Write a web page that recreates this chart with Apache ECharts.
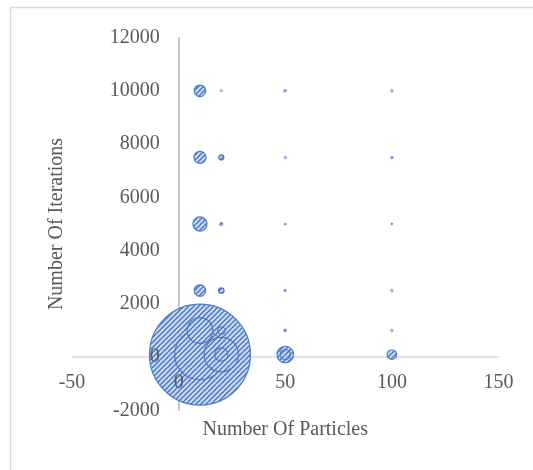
<!DOCTYPE html>
<html>
<head>
<meta charset="utf-8">
<script src="https://cdn.jsdelivr.net/npm/echarts@6/dist/echarts.min.js"></script>
<style>
html,body{margin:0;padding:0;background:#fff;}
#chart{width:533px;height:470px;}
</style>
</head>
<body>
<div id="chart"></div>
<script>
// Data
const particles  = [10, 10, 10, 10, 10, 10, 10, 20, 20, 20, 20, 20, 20, 20, 50, 50, 50, 50, 50, 50, 50, 100, 100, 100, 100, 100, 100];
const iterations = [10000, 7500, 5000, 2500, 1000, 100, 100, 10000, 7500, 5000, 2500, 1000, 100, 100, 10000, 7500, 5000, 2500, 1000, 100, 100, 10000, 7500, 5000, 2500, 1000, 100];
const bubbleSize = [1.3, 1.45, 1.95, 1.3, 6.5, 100, 25, 0.04, 0.25, 0.12, 0.3, 0.55, 11.6, 1.7, 0.07, 0.06, 0.04, 0.06, 0.09, 2.7, 1.0, 0.06, 0.06, 0.04, 0.06, 0.06, 0.9];
const xTicks = [-50, 0, 50, 100, 150];
const yTicks = [-2000, 0, 2000, 4000, 6000, 8000, 10000, 12000];

// hatched pattern
const tile = document.createElement('canvas');
tile.width = 5; tile.height = 5;
const c = tile.getContext('2d');
c.fillStyle = '#cbd9ef';
c.fillRect(0, 0, 5, 5);
c.strokeStyle = '#4472c4';
c.lineWidth = 1.3;
c.beginPath();
c.moveTo(-1, 6); c.lineTo(6, -1);
c.moveTo(-1, 1); c.lineTo(1, -1);
c.moveTo(4, 6); c.lineTo(6, 4);
c.stroke();

const maxSize = Math.max(...bubbleSize);
const pts = particles.map((x, i) => [x, iterations[i], bubbleSize[i]]);
pts.sort((a, b) => b[2] - a[2]);

const font = "'Liberation Serif', 'Times New Roman', serif";
const gridLeft = 72, gridRight = 34.5, gridTop = 37.5, gridBottom = 59.5;
const W = 533, H = 470;
const plotW = W - gridLeft - gridRight, plotH = H - gridTop - gridBottom;
// offsets that put each axis where the other axis is zero (computed from the axis ranges)
const xOffset = -plotH * (0 - yTicks[0]) / (yTicks[yTicks.length - 1] - yTicks[0]);
const yOffset = -plotW * (0 - xTicks[0]) / (xTicks[xTicks.length - 1] - xTicks[0]);

function xAx(lines) {
  return {
    type: 'value', position: 'bottom', offset: xOffset, z: lines ? 0 : 5,
    min: xTicks[0], max: xTicks[xTicks.length - 1], interval: 50,
    name: lines ? '' : 'Number Of Particles', nameLocation: 'middle', nameGap: 63, nameMoveOverlap: false,
    nameTextStyle: {fontFamily: font, fontSize: 20, color: '#595959'},
    axisLine: {show: lines, onZero: false, lineStyle: {color: '#d9d9d9', width: 1.5}},
    axisTick: {show: false},
    splitLine: {show: false},
    axisLabel: {show: !lines, fontFamily: font, fontSize: 20, color: '#595959', margin: 16, formatter: v => String(v)}
  };
}
function yAx(lines) {
  return {
    type: 'value', position: 'left', offset: yOffset, z: lines ? 0 : 5,
    min: yTicks[0], max: yTicks[yTicks.length - 1], interval: 2000,
    name: lines ? '' : 'Number Of Iterations', nameLocation: 'middle', nameGap: 112, nameMoveOverlap: false,
    nameTextStyle: {fontFamily: font, fontSize: 20, color: '#595959'},
    axisLine: {show: lines, onZero: false, lineStyle: {color: '#b3b3b3', width: 1.5}},
    axisTick: {show: false},
    splitLine: {show: false},
    axisLabel: {show: !lines, fontFamily: font, fontSize: 20, color: '#595959', margin: 19, formatter: v => String(v)}
  };
}

const chart = echarts.init(document.getElementById('chart'), null, {renderer: 'canvas'});
chart.setOption({
  animation: false,
  backgroundColor: '#ffffff',
  graphic: [{
    type: 'rect', z: -1,
    shape: {x: 10.5, y: 7.5, width: 700, height: 700},
    style: {fill: 'none', stroke: '#d9d9d9', lineWidth: 1.5}
  }],
  grid: {left: gridLeft, right: gridRight, top: gridTop, bottom: gridBottom, containLabel: false, outerBoundsMode: 'none'},
  xAxis: [xAx(true), xAx(false)],
  yAxis: [yAx(true), yAx(false)],
  series: [{
    type: 'custom',
    z: 2,
    xAxisIndex: 0, yAxisIndex: 0,
    data: pts,
    encode: {x: 0, y: 1},
    renderItem: function (params, api) {
      const p = api.coord([api.value(0), api.value(1)]);
      const r = 50.5 * Math.sqrt(api.value(2) / maxSize);
      return {
        type: 'circle',
        shape: {cx: p[0], cy: p[1], r: r},
        style: {
          fill: {image: tile, repeat: 'repeat'},
          stroke: '#4a7cc4',
          lineWidth: r < 2 ? 0.6 : 1.2
        }
      };
    },
    clip: false
  }]
});
</script>
</body>
</html>
